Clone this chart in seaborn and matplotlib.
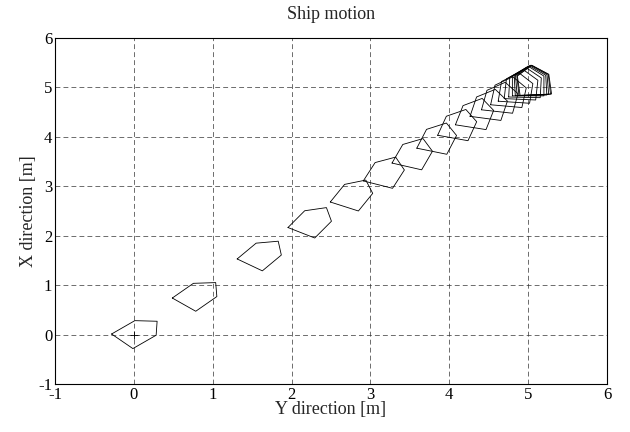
import numpy as np
import pandas as pd
import matplotlib
matplotlib.use("Agg")
import matplotlib.pyplot as plt
import seaborn as sns

# ship centre positions (Y = east, X = north) and heading in degrees
ship_y = [0.00, 0.77, 1.59, 2.23, 2.76, 3.17, 3.53, 3.84, 4.10, 4.32,
          4.50, 4.64, 4.75, 4.84, 4.91, 4.96, 5.00, 5.03, 5.05, 5.07, 5.08]
ship_x = [0.00, 0.755, 1.57, 2.23, 2.77, 3.22, 3.59, 3.90, 4.17, 4.39,
          4.57, 4.71, 4.82, 4.90, 4.96, 5.00, 5.03, 5.04, 5.05, 5.05, 5.05]
heading = [47.5, 42, 37, 32, 27, 22, 20, 18, 16, 14,
           12, 10, 8, 6, 4, 2, 0, -2, -3, -4, -5]

# hull outline in body frame (u forward, w starboard)
hull_u = [-0.2, 0.2, 0.4, 0.2, -0.2, -0.2]
hull_w = [-0.2, -0.2, 0.0, 0.2, 0.2, -0.2]

rows = []
for i, (cy, cx, psi) in enumerate(zip(ship_y, ship_x, heading)):
    p = np.deg2rad(psi)
    for j, (u, w) in enumerate(zip(hull_u, hull_w)):
        rows.append({"ship": i, "k": j,
                     "Y": cy + u * np.sin(p) + w * np.cos(p),
                     "X": cx + u * np.cos(p) - w * np.sin(p)})
df = pd.DataFrame(rows)

sns.set_style("white")
plt.rcParams["font.family"] = ["Liberation Serif", "DejaVu Serif"]
plt.rcParams["axes.unicode_minus"] = False

fig = plt.figure(figsize=(6.3, 4.32), dpi=100)
ax = fig.add_axes([0.0873, 0.111, 0.8762, 0.801])

sns.lineplot(data=df, x="Y", y="X", units="ship", estimator=None, sort=False,
             color="black", linewidth=0.6, ax=ax, legend=False)
ax.plot(ship_y[0], ship_x[0], marker="+", color="black", markersize=6, mew=0.6)

ax.set_xlim(-1, 6)
ax.set_ylim(-1, 6)
ax.set_xticks(range(-1, 7))
ax.set_yticks(range(-1, 7))
ax.grid(True, color="#333333", linestyle=(0, (7, 4.5)), linewidth=0.5)
for s in ax.spines.values():
    s.set_color("black")
    s.set_linewidth(0.8)
ax.tick_params(direction="in", length=4, width=0.6, labelsize=12, colors="black", pad=2)

ax.set_title("Ship motion", fontsize=13, pad=14)
ax.set_xlabel("Y direction [m]", fontsize=13, labelpad=-1)
ax.set_ylabel("X direction [m]", fontsize=13, labelpad=1)

fig.savefig("out.png", dpi=100)
